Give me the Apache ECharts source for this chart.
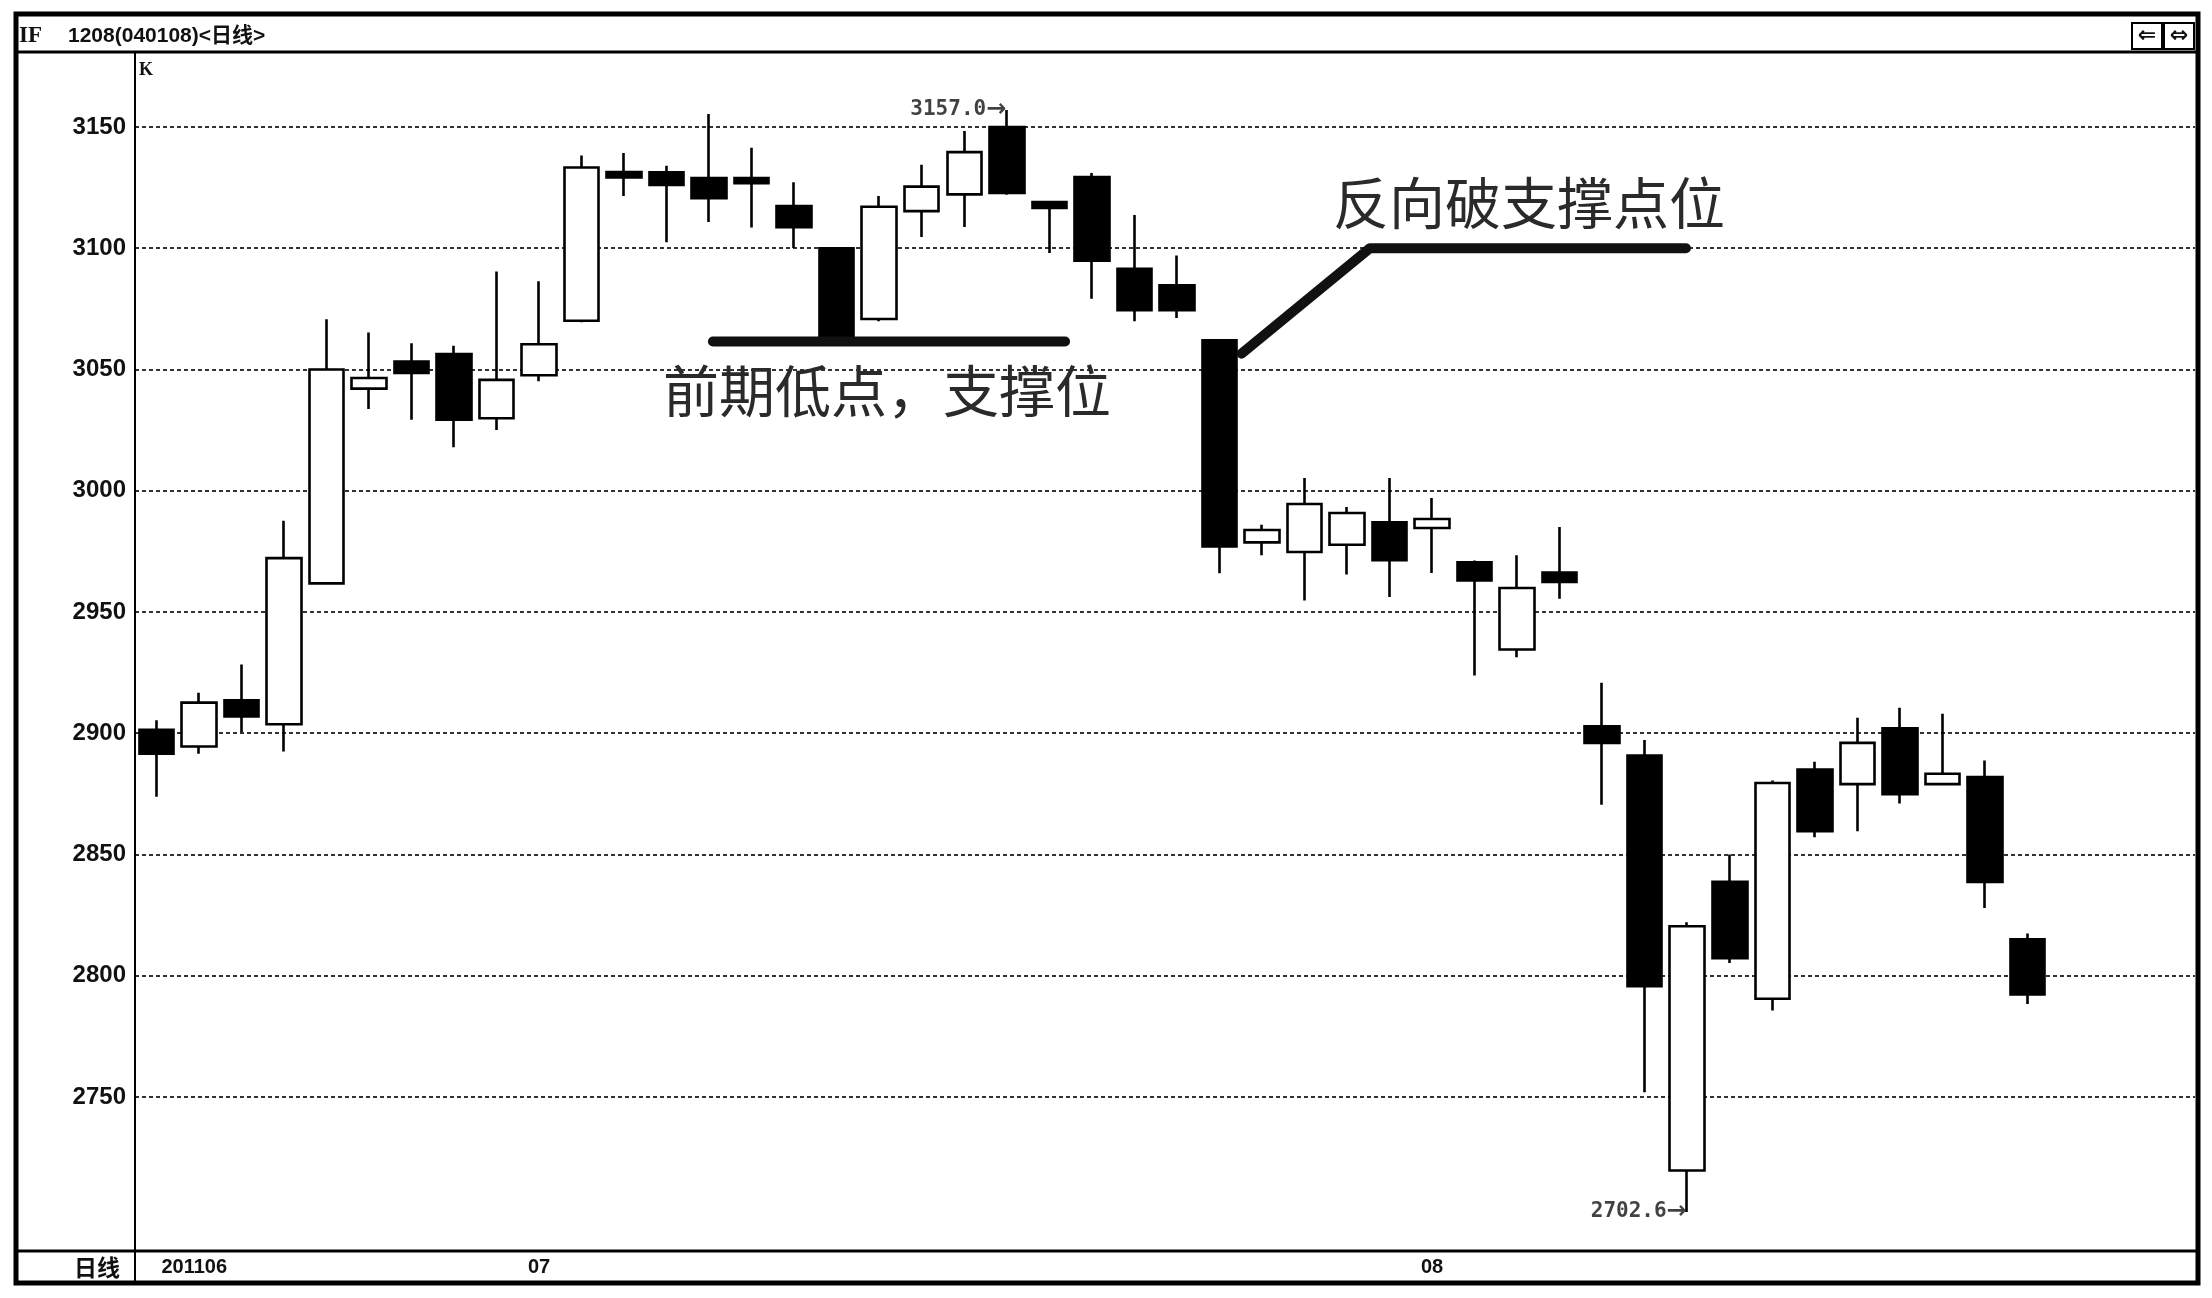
<!DOCTYPE html>
<html><head><meta charset="utf-8">
<script src="https://cdn.jsdelivr.net/npm/echarts@6/dist/echarts.min.js"></script>
<style>html,body{margin:0;padding:0;background:#fff}#c{width:2212px;height:1298px}</style>
</head><body><div id="c"></div>
<script>
// ---- data ----
const dates = [
  '2011-06-20','2011-06-21','2011-06-22','2011-06-23','2011-06-24','2011-06-27','2011-06-28','2011-06-29','2011-06-30',
  '2011-07-01','2011-07-04','2011-07-05','2011-07-06','2011-07-07','2011-07-08','2011-07-11','2011-07-12','2011-07-13',
  '2011-07-14','2011-07-15','2011-07-18','2011-07-19','2011-07-20','2011-07-21','2011-07-22','2011-07-25','2011-07-26',
  '2011-07-27','2011-07-28','2011-07-29',
  '2011-08-01','2011-08-02','2011-08-03','2011-08-04','2011-08-05','2011-08-08','2011-08-09','2011-08-10','2011-08-11',
  '2011-08-12','2011-08-15','2011-08-16','2011-08-17','2011-08-18','2011-08-19'
];
const opens  = [2901.4,2894.5,2913.6,2903.7,2961.8,3042.1,3053.3,3056.3,3029.9,3047.6,3070.1,3131.4,3131.3,3128.9,3128.9,3117.4,3100.0,3070.8,3115.3,3122.2,3150.0,3119.0,3129.3,3091.5,3084.7,3062.0,2978.7,2974.7,2977.7,2987.0,2984.6,2970.5,2934.5,2966.3,2902.8,2890.8,2719.7,2838.7,2790.5,2885.0,2879.0,2902.0,2879.0,2881.9,2815.0];
const closes = [2891.5,2912.6,2906.9,2972.2,3050.0,3046.5,3048.6,3029.3,3045.7,3060.4,3133.3,3129.2,3126.1,3120.6,3126.8,3108.7,3062.0,3117.1,3125.4,3139.6,3122.8,3116.6,3094.8,3074.4,3074.4,2977.0,2983.8,2994.5,2990.8,2971.3,2988.3,2963.0,2959.9,2962.4,2896.0,2795.7,2820.4,2807.2,2879.5,2859.6,2896.0,2874.8,2883.3,2838.7,2792.3];
const lows   = [2873.8,2891.5,2900.4,2892.5,2961.8,3033.7,3029.3,3017.9,3025.0,3045.1,3069.5,3121.5,3102.5,3110.8,3108.5,3100.1,3062.0,3069.9,3104.6,3108.7,3122.0,3098.0,3079.2,3069.9,3071.2,2966.0,2973.4,2954.7,2965.4,2956.2,2966.1,2923.8,2931.3,2955.4,2870.5,2752.0,2702.6,2805.2,2785.7,2857.1,2859.6,2871.0,2879.0,2827.9,2788.3];
const highs  = [2905.3,2916.7,2928.3,2987.6,3070.7,3065.2,3060.8,3059.8,3090.4,3086.4,3138.2,3139.3,3134.0,3155.3,3141.4,3127.2,3100.0,3121.5,3134.4,3148.3,3157.0,3119.0,3131.0,3113.7,3097.0,3062.0,2986.0,3005.2,2993.3,3005.2,2997.0,2971.2,2973.4,2985.0,2920.8,2897.2,2822.0,2850.0,2880.5,2888.2,2906.4,2910.5,2908.0,2888.7,2817.4];
const yTicks = [2750,2800,2850,2900,2950,3000,3050,3100,3150];
const xTickIndex = [0, 9, 30];
const xTickLabels = ['201106','07','08'];
const highMark = [20, 3157.0];
const lowMark = [36, 2702.6];
const supportLine = [[13.09,3061.5],[21.37,3061.5]];
const breakLine = [[25.52,3056.5],[28.54,3100.0],[35.97,3100.0]];
const supportText = '前期低点，支撑位';
const breakText = '反向破支撑点位';
const headerCode = 'IF';
const headerTitle = '1208(040108)<日线>';

// ---- chart ----
const candleData = dates.map((d, i) => [i, opens[i], closes[i], lows[i], highs[i]]);
const chart = echarts.init(document.getElementById('c'), null, {renderer: 'canvas'});
const markRich = {
  n: {fontFamily: '"DejaVu Sans Mono", "Liberation Mono", monospace', fontWeight: 'bold', fontSize: 21, color: '#111'},
  a: {fontFamily: '"DejaVu Sans", sans-serif', fontWeight: 'bold', fontSize: 24, color: '#111'}
};
function markLabel(v) {
  return {show: true, position: 'left', distance: 0, formatter: '{n|' + v.toFixed(1) + '}{a|→}', rich: markRich};
}

chart.setOption({
  animation: false,
  backgroundColor: '#fff',
  grid: {left: 135, right: 17, top: 52, bottom: 48},
  xAxis: {
    type: 'value', min: -0.5, max: 47.94,
    axisLine: {show: false}, axisTick: {show: false}, splitLine: {show: false},
    axisLabel: {
      customValues: xTickIndex, margin: 7,
      fontFamily: '"Liberation Sans", Arial', fontWeight: 'bold', fontSize: 20, color: '#111',
      formatter: function (v) {
        const k = xTickIndex.indexOf(Math.round(v));
        if (k < 0) return '';
        return k === 0 ? '{first|' + xTickLabels[k] + '}' : xTickLabels[k];
      },
      rich: {first: {padding: [0, 0, 0, 76], fontFamily: '"Liberation Sans", Arial', fontWeight: 'bold', fontSize: 20, color: '#111'}}
    }
  },
  yAxis: {
    type: 'value', min: 2686.9, max: 3180.9, scale: true,
    axisLine: {show: false},
    axisTick: {show: false, customValues: yTicks},
    axisLabel: {customValues: yTicks, margin: 9, fontFamily: '"Liberation Sans", Arial', fontWeight: 'bold', fontSize: 24, color: '#111',
      formatter: function (v) { return String(Math.round(v)); }},
    splitLine: {show: true, lineStyle: {color: '#333', width: 1.8, type: [4, 3]}}
  },
  series: [
    {
      type: 'candlestick', data: candleData, barWidth: 35,
      encode: {x: 0, y: [1, 2, 3, 4]},
      itemStyle: {color: '#fff', color0: '#000', borderColor: '#000', borderColor0: '#000', borderWidth: 2.6}
    },
    {
      type: 'line', data: supportLine, symbol: 'none', z: 5,
      lineStyle: {color: '#111', width: 10, cap: 'round', join: 'round'}
    },
    {
      type: 'line', data: breakLine, symbol: 'none', z: 5,
      lineStyle: {color: '#111', width: 10, cap: 'round', join: 'round'}
    },
    {
      type: 'scatter', data: [highMark], symbolSize: 1, itemStyle: {color: 'rgba(0,0,0,0)'},
      label: markLabel(highMark[1])
    },
    {
      type: 'scatter', data: [lowMark], symbolSize: 1, itemStyle: {color: 'rgba(0,0,0,0)'},
      label: markLabel(lowMark[1])
    }
  ],
  graphic: [
    {type: 'rect', shape: {x: 16, y: 14, width: 2182, height: 1269}, style: {fill: 'none', stroke: '#000', lineWidth: 5}, z: 100},
    {type: 'line', shape: {x1: 16, y1: 52, x2: 2198, y2: 52}, style: {stroke: '#000', lineWidth: 3}, z: 100},
    {type: 'line', shape: {x1: 16, y1: 1251, x2: 2198, y2: 1251}, style: {stroke: '#000', lineWidth: 3}, z: 100},
    {type: 'line', shape: {x1: 135, y1: 52, x2: 135, y2: 1283}, style: {stroke: '#000', lineWidth: 2}, z: 100},
    {type: 'text', x: 19, y: 36, style: {text: headerCode, font: 'bold 23px "Liberation Serif", serif', fill: '#111', verticalAlign: 'middle'}, z: 100},
    {type: 'text', x: 68, y: 36, style: {text: headerTitle, font: 'bold 21px "Liberation Sans", "Noto Sans CJK SC", sans-serif', fill: '#111', verticalAlign: 'middle'}, z: 100},
    {type: 'text', x: 139, y: 70, style: {text: 'K', font: 'bold 18px "Liberation Serif", serif', fill: '#111', verticalAlign: 'middle'}, z: 100},
    {type: 'text', x: 74, y: 1267, style: {text: '日线', font: 'bold 23px "Noto Sans CJK SC", sans-serif', fill: '#111', verticalAlign: 'middle'}, z: 100},
    {type: 'rect', shape: {x: 2132, y: 23, width: 30, height: 26}, style: {fill: '#fff', stroke: '#000', lineWidth: 2}, z: 100},
    {type: 'rect', shape: {x: 2164, y: 23, width: 30, height: 26}, style: {fill: '#fff', stroke: '#000', lineWidth: 2}, z: 100},
    {type: 'text', x: 2147, y: 36, style: {text: '⇐', font: 'bold 22px "DejaVu Sans", sans-serif', fill: '#111', align: 'center', verticalAlign: 'middle'}, z: 101},
    {type: 'text', x: 2179, y: 36, style: {text: '⇔', font: 'bold 22px "DejaVu Sans", sans-serif', fill: '#111', align: 'center', verticalAlign: 'middle'}, z: 101},
    {type: 'text', x: 663, y: 391, style: {text: supportText, font: '56px "Noto Sans CJK SC", sans-serif', fill: '#2a2a2a', verticalAlign: 'middle'}, z: 50},
    {type: 'text', x: 1333, y: 203, style: {text: breakText, font: '56px "Noto Sans CJK SC", sans-serif', fill: '#2a2a2a', verticalAlign: 'middle'}, z: 50}
  ]
});
</script></body></html>
